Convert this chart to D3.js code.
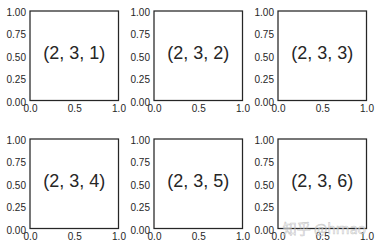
<!DOCTYPE html>
<html>
<head>
<meta charset="UTF-8">
<script src="https://d3js.org/d3.v7.min.js"></script>
<style>
  body { margin: 0; background: #fff; }
  svg text { font-family: "Liberation Sans", Arial, sans-serif; fill: #262626; }
</style>
</head>
<body>
<svg id="chart" width="379" height="249"></svg>
<script>
  // subplot grid: 2 rows x 3 cols
  const nRows = 2, nCols = 3;
  const panelLabels = ["(2, 3, 1)", "(2, 3, 2)", "(2, 3, 3)", "(2, 3, 4)", "(2, 3, 5)", "(2, 3, 6)"];
  const xTicks = [0.0, 0.5, 1.0];
  const yTicks = [0.00, 0.25, 0.50, 0.75, 1.00];

  const W = 379, H = 249;
  const axLeft = 30, axTop = 11;
  const axW = 88.5, axH = 89.5;
  const colStep = 124, rowStep = 128;

  const svg = d3.select("#chart");
  svg.append("rect").attr("width", W).attr("height", H).attr("fill", "#fff");

  panelLabels.forEach((label, i) => {
    const r = Math.floor(i / nCols), c = i % nCols;
    const g = svg.append("g")
      .attr("transform", "translate(" + (axLeft + c * colStep) + "," + (axTop + r * rowStep) + ")");

    const x = d3.scaleLinear().domain([0, 1]).range([0, axW]);
    const y = d3.scaleLinear().domain([0, 1]).range([axH, 0]);

    // x axis labels (no tick marks, seaborn white style)
    const xa = g.append("g")
      .attr("transform", "translate(0," + axH + ")")
      .call(d3.axisBottom(x).tickValues(xTicks).tickFormat(d3.format(".1f")).tickSize(0).tickPadding(4));
    xa.select(".domain").remove();
    xa.selectAll("text").attr("font-size", 10).attr("fill", "#262626").style("font-family", "Liberation Sans, Arial, sans-serif");

    const ya = g.append("g")
      .call(d3.axisLeft(y).tickValues(yTicks).tickFormat(d3.format(".2f")).tickSize(0).tickPadding(4));
    ya.select(".domain").remove();
    ya.selectAll("text").attr("font-size", 10).attr("fill", "#262626").attr("dy", "0.45em").style("font-family", "Liberation Sans, Arial, sans-serif");

    // frame
    g.append("rect")
      .attr("x", 0).attr("y", 0)
      .attr("width", axW).attr("height", axH)
      .attr("fill", "none").attr("stroke", "#262626").attr("stroke-width", 1.25);

    // matplotlib centres the text box incl. descent, so it sits a bit high
    g.append("text")
      .attr("x", x(0.5)).attr("y", y(0.5) - 3)
      .attr("text-anchor", "middle")
      .attr("dominant-baseline", "central")
      .attr("font-size", 18)
      .text(label);
  });

  // watermark
  svg.append("text")
    .attr("x", 366).attr("y", 234)
    .attr("text-anchor", "end")
    .attr("font-size", 14)
    .style("font-family", "Noto Sans CJK SC, sans-serif")
    .style("fill", "rgba(255,255,255,0.6)")
    .attr("stroke", "rgba(150,150,150,0.55)")
    .attr("stroke-width", 0.6)
    .text("知乎 @hrnao");
</script>
</body>
</html>
